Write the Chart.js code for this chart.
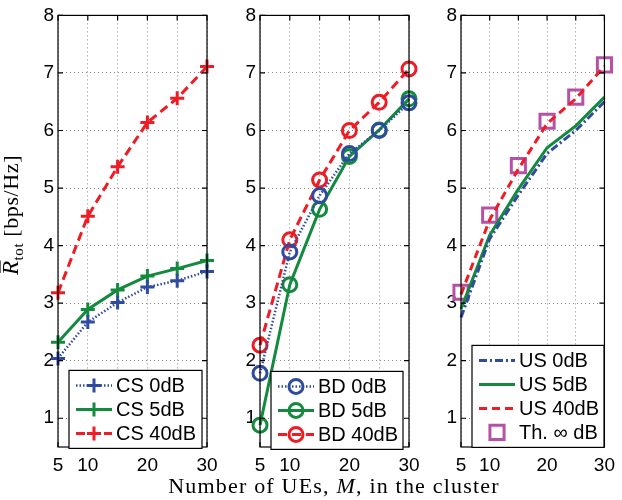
<!DOCTYPE html>
<html>
<head>
<meta charset="utf-8">
<script src="https://cdn.jsdelivr.net/npm/chart.js@4.4.0/dist/chart.umd.min.js"></script>
<style>
html, body { margin: 0; padding: 0; background: #fff; }
#wrap { position: relative; width: 622px; height: 500px; }
#wrap canvas { position: absolute; left: 0; top: 0; }
</style>
</head>
<body>
<div id="wrap">
  <canvas id="cs" width="622" height="500"></canvas>
  <canvas id="bd" width="622" height="500"></canvas>
  <canvas id="us" width="622" height="500"></canvas>
</div>
<script>
// Data

const users = [5, 10, 15, 20, 25, 30];
const xTicks = [5, 10, 15, 20, 25, 30];
const xTickLabels = ['5', '10', '', '20', '', '30'];
const yTicks = [1, 2, 3, 4, 5, 6, 7, 8];

const cs0 = [2.04, 2.67, 3.01, 3.28, 3.39, 3.55];
const cs5 = [2.32, 2.89, 3.23, 3.47, 3.60, 3.74];
const cs40 = [3.18, 4.51, 5.37, 6.14, 6.56, 7.11];

const bd0 = [1.78, 3.89, 4.87, 5.60, 6.00, 6.48];
const bd5 = [0.88, 3.32, 4.63, 5.55, 6.01, 6.55];
const bd40 = [2.27, 4.10, 5.14, 6.00, 6.49, 7.07];

const us0 = [2.75, 4.12, 4.88, 5.60, 6.00, 6.50];
const us5 = [2.90, 4.18, 4.98, 5.70, 6.08, 6.58];
const us40 = [3.15, 4.45, 5.33, 6.12, 6.55, 7.12];
const usTh = [3.19, 4.53, 5.39, 6.16, 6.58, 7.14];

// Colours and fonts

const blue = '#2f4ba0';
const green = '#138a3d';
const red = '#ee1c24';
const magenta = '#b552a8';
const sans = '"Liberation Sans", Arial, sans-serif';
const serif = '"Liberation Serif", "Times New Roman", serif';

// Build a dataset

function series(label, values, color, width, dash, style, radius) {
    return {
        label: label,
        data: users.map((x, i) => ({x: x, y: values[i]})),
        borderColor: color,
        borderWidth: width,
        borderDash: dash,
        showLine: width > 0,
        pointStyle: style,
        pointRadius: radius,
        pointHoverRadius: radius,
        pointBorderColor: color,
        pointBackgroundColor: 'rgba(0,0,0,0)',
        pointBorderWidth: 3,
        tension: 0,
        clip: false
    };
}

// Draw a marker (used by the legend box)

function drawMarker(ctx, style, x, y, r, color) {
    ctx.save();
    ctx.strokeStyle = color;
    ctx.lineWidth = 3;
    ctx.setLineDash([]);
    ctx.beginPath();
    if (style == 'cross') {
        ctx.moveTo(x - r, y); ctx.lineTo(x + r, y);
        ctx.moveTo(x, y - r); ctx.lineTo(x, y + r);
    } else if (style == 'circle') {
        ctx.arc(x, y, r, 0, Math.PI * 2);
    } else if (style == 'rect') {
        const s = r * Math.SQRT1_2;
        ctx.rect(x - s, y - s, 2 * s, 2 * s);
    }
    ctx.stroke();
    ctx.restore();
}

// Plugin: matlab style box with inward ticks

const framePlugin = {
    id: 'frame',
    afterDatasetsDraw(chart) {
        const {ctx, chartArea: a, scales} = chart;
        ctx.save();
        ctx.strokeStyle = '#000';
        ctx.lineWidth = 1.2;
        ctx.setLineDash([]);
        ctx.strokeRect(a.left, a.top, a.width, a.height);
        ctx.beginPath();
        xTicks.forEach(v => {
            const x = scales.x.getPixelForValue(v);
            ctx.moveTo(x, a.bottom); ctx.lineTo(x, a.bottom - 5);
            ctx.moveTo(x, a.top); ctx.lineTo(x, a.top + 5);
        });
        yTicks.forEach(v => {
            const y = scales.y.getPixelForValue(v);
            ctx.moveTo(a.left, y); ctx.lineTo(a.left + 5, y);
            ctx.moveTo(a.right, y); ctx.lineTo(a.right - 5, y);
        });
        ctx.stroke();
        ctx.restore();
    }
};

// Plugin: legend box inside the plot

const boxLegend = {
    id: 'boxLegend',
    afterDraw(chart, args, opts) {
        const {ctx} = chart;
        const a = chart.chartArea;
        const x = a.left + opts.left;
        const y = a.top + opts.top;
        const rows = chart.data.datasets.length;
        const h = 15 + (rows - 1) * 24 + 15;
        ctx.save();
        ctx.fillStyle = '#fff';
        ctx.strokeStyle = '#000';
        ctx.lineWidth = 1.2;
        ctx.fillRect(x, y, opts.width, h);
        ctx.strokeRect(x, y, opts.width, h);
        chart.data.datasets.forEach((ds, i) => {
            const cy = y + 15 + i * 24;
            const x0 = x + 7;
            const x1 = x0 + 36;
            if (ds.showLine) {
                ctx.setLineDash(ds.borderDash || []);
                ctx.strokeStyle = ds.borderColor;
                ctx.lineWidth = ds.borderWidth;
                ctx.beginPath();
                ctx.moveTo(x0, cy);
                ctx.lineTo(x1, cy);
                ctx.stroke();
                ctx.setLineDash([]);
            }
            if (ds.pointRadius > 0) {
                drawMarker(ctx, ds.pointStyle, (x0 + x1) / 2, cy, ds.pointRadius, ds.pointBorderColor);
            }
            ctx.fillStyle = '#000';
            ctx.font = '20px ' + sans;
            ctx.textBaseline = 'middle';
            ctx.fillText(ds.label, x1 + 4, cy + 1);
        });
        ctx.restore();
    }
};

// Plugin: axis titles with italic/subscript parts

function drawRuns(ctx, runs, spacing) {
    ctx.letterSpacing = spacing + 'px';
    let total = 0;
    runs.forEach(r => { ctx.font = r.font; r.w = ctx.measureText(r.text).width; total += r.w; });
    let x = -total / 2;
    runs.forEach(r => {
        ctx.font = r.font;
        ctx.fillText(r.text, x, r.dy || 0);
        if (r.over) {
            ctx.beginPath();
            ctx.lineWidth = 1.2;
            ctx.moveTo(x + 2, -18);
            ctx.lineTo(x + r.w, -18);
            ctx.stroke();
        }
        x += r.w;
    });
    ctx.letterSpacing = '0px';
}

const titlePlugin = {
    id: 'axisTitles',
    afterDraw(chart, args, opts) {
        const {ctx} = chart;
        ctx.save();
        ctx.fillStyle = '#000';
        ctx.strokeStyle = '#000';
        ctx.textBaseline = 'alphabetic';
        if (opts.x) {
            ctx.translate(opts.x.cx, opts.x.cy);
            drawRuns(ctx, opts.x.runs, opts.x.spacing);
            ctx.setTransform(1, 0, 0, 1, 0, 0);
        }
        if (opts.y) {
            ctx.translate(opts.y.cx, opts.y.cy);
            ctx.rotate(-Math.PI / 2);
            drawRuns(ctx, opts.y.runs, opts.y.spacing);
        }
        ctx.restore();
    }
};

// Shared scale setup

function makeScales(yWidth) {
    return {
        x: {
            type: 'linear',
            min: 5,
            max: 30,
            afterBuildTicks: s => { s.ticks = xTicks.map(v => ({value: v})); },
            afterFit: s => { s.height = 53; },
            grid: { color: '#8a8a8a', lineWidth: 1, drawTicks: false },
            border: { display: false, dash: [1, 3] },
            ticks: {
                callback: v => xTickLabels[xTicks.indexOf(v)],
                autoSkip: false,
                maxRotation: 0,
                padding: 7,
                color: '#000',
                font: { family: sans, size: 19 }
            }
        },
        y: {
            type: 'linear',
            min: 0.5,
            max: 8,
            afterBuildTicks: s => { s.ticks = yTicks.map(v => ({value: v})); },
            afterFit: s => { s.width = yWidth; },
            grid: { color: '#8a8a8a', lineWidth: 1, drawTicks: false },
            border: { display: false, dash: [1, 3] },
            ticks: {
                padding: 4,
                color: '#000',
                font: { family: sans, size: 19 }
            }
        }
    };
}

function makeChart(id, datasets, padLeft, padRight, yWidth, legendOpts, titles) {
    return new Chart(document.getElementById(id), {
        type: 'line',
        data: { datasets: datasets },
        options: {
            responsive: false,
            animation: false,
            devicePixelRatio: 1,
            layout: { padding: { left: padLeft, right: padRight, top: 10, bottom: 0 } },
            scales: makeScales(yWidth),
            plugins: {
                legend: { display: false },
                tooltip: { enabled: false },
                boxLegend: legendOpts,
                axisTitles: titles
            }
        },
        plugins: [framePlugin, boxLegend, titlePlugin]
    });
}

const csChart = makeChart('cs', [
    series('CS 0dB', cs0, blue, 2.5, [1.5, 2], 'cross', 7),
    series('CS 5dB', cs5, green, 3, [], 'cross', 7),
    series('CS 40dB', cs40, red, 3, [9, 5], 'cross', 7)
], 0, 415, 58, { left: 11, top: 355, width: 133 }, {
    y: { cx: 18, cy: 215, spacing: 0.6, runs: [
        { text: 'R', font: 'italic 23px ' + serif, over: true },
        { text: 'tot', font: '15px ' + serif, dy: 5 },
        { text: ' [bps/Hz]', font: '22px ' + serif }
    ] }
});

const bdChart = makeChart('bd', [
    series('BD 0dB', bd0, blue, 2.5, [1.5, 2], 'circle', 7),
    series('BD 5dB', bd5, green, 3, [], 'circle', 7),
    series('BD 40dB', bd40, red, 3, [9, 5], 'circle', 7)
], 240, 213, 20, { left: 11, top: 356, width: 132 }, {
    x: { cx: 334, cy: 493, spacing: 1.2, runs: [
        { text: 'Number of UEs, ', font: '22px ' + serif },
        { text: 'M', font: 'italic 22px ' + serif },
        { text: ', in the cluster', font: '22px ' + serif }
    ] }
});

const usChart = makeChart('us', [
    series('US 0dB', us0, blue, 3, [8, 3, 2, 3], 'circle', 0),
    series('US 5dB', us5, green, 3, [], 'circle', 0),
    series('US 40dB', us40, red, 3, [8, 5], 'circle', 0),
    series('Th. \u221e dB', usTh, magenta, 0, [], 'rect', 10)
], 441, 11, 20, { left: 11, top: 330, width: 132 }, {});
</script>
</body>
</html>
